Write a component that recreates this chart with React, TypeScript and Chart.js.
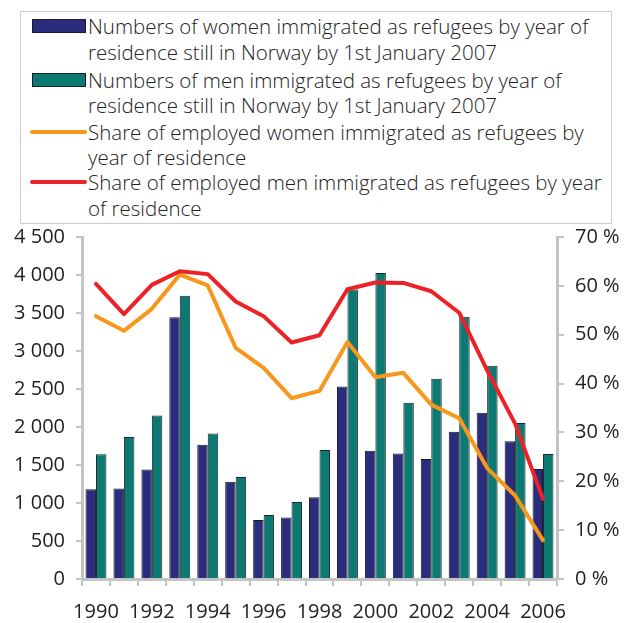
import React, { useEffect, useRef } from "react";
import { Chart, registerables } from "chart.js";

Chart.register(...registerables);

const years = ["1990","1991","1992","1993","1994","1995","1996","1997","1998","1999","2000","2001","2002","2003","2004","2005","2006"];
const womenNumbers = [1180, 1190, 1440, 3445, 1765, 1280, 775, 808, 1075, 2533, 1686, 1651, 1580, 1936, 2186, 1813, 1449];
const menNumbers = [1642, 1870, 2150, 3727, 1914, 1343, 843, 1014, 1699, 3810, 4026, 2318, 2634, 3450, 2805, 2054, 1646];
const womenShare = [53.8, 50.8, 55.3, 62.3, 60.1, 47.3, 43.2, 37.0, 38.5, 48.5, 41.3, 42.2, 35.7, 32.9, 22.7, 17.1, 7.9];
const menShare = [60.4, 54.2, 60.2, 63.0, 62.4, 56.8, 53.8, 48.4, 49.9, 59.3, 60.7, 60.6, 58.9, 54.5, 42.7, 31.8, 16.4];

const legendLabels = [
  ["Numbers of women immigrated as refugees by year of", "residence still in Norway by 1st January 2007"],
  ["Numbers of men immigrated as refugees by year of", "residence still in Norway by 1st January 2007"],
  ["Share of employed women immigrated as refugees by", "year of residence"],
  ["Share of employed men immigrated as refugees by year", "of residence"],
];

const NAVY = "#2b2d7c";
const TEAL = "#0c7a73";
const ORANGE = "#f7981d";
const RED = "#ec2227";
const AXIS = "#c4c4c4";
const TEXT = "#222222";
const FONT = "'Open Sans', 'Noto Sans', sans-serif";

function fmtThousands(v: number): string {
  const s = String(Math.round(v));
  return s.replace(/\B(?=(\d{3})+(?!\d))/g, " ");
}

export default function App() {
  const canvasRef = useRef<HTMLCanvasElement | null>(null);

  useEffect(() => {
    document.body.style.margin = "0";
    const ctx = canvasRef.current!.getContext("2d")!;
    const chart = new Chart(ctx, {
      type: "bar",
      data: {
        labels: years,
        datasets: [
          {
            type: "line",
            label: legendLabels[3].join(" "),
            data: menShare,
            yAxisID: "y1",
            borderColor: RED,
            backgroundColor: RED,
            borderWidth: 4,
            pointRadius: 0,
            tension: 0,
            borderJoinStyle: "round",
            borderCapStyle: "round",
            order: 0,
          } as any,
          {
            type: "line",
            label: legendLabels[2].join(" "),
            data: womenShare,
            yAxisID: "y1",
            borderColor: ORANGE,
            backgroundColor: ORANGE,
            borderWidth: 4,
            pointRadius: 0,
            tension: 0,
            borderJoinStyle: "round",
            borderCapStyle: "round",
            order: 1,
          } as any,
          {
            type: "bar",
            label: legendLabels[0].join(" "),
            data: womenNumbers,
            yAxisID: "y",
            backgroundColor: NAVY,
            borderColor: "#1a1a2a",
            borderWidth: 1,
            categoryPercentage: 0.75,
            barPercentage: 1.0,
            order: 2,
          },
          {
            type: "bar",
            label: legendLabels[1].join(" "),
            data: menNumbers,
            yAxisID: "y",
            backgroundColor: TEAL,
            borderColor: "#1a2a2a",
            borderWidth: 1,
            categoryPercentage: 0.75,
            barPercentage: 1.0,
            order: 2,
          },
        ],
      },
      options: {
        responsive: false,
        animation: false,
        layout: { padding: { top: 237, left: 0, right: 0, bottom: 0 } },
        plugins: {
          legend: { display: false },
          tooltip: { enabled: false },
        },
        scales: {
          x: {
            offset: true,
            grid: {
              display: true,
              offset: true,
              drawOnChartArea: false,
              drawTicks: true,
              tickLength: 7,
              color: AXIS,
              lineWidth: 2,
            },
            border: { display: true, color: AXIS, width: 3 },
            ticks: {
              autoSkip: false,
              maxRotation: 0,
              minRotation: 0,
              padding: 14,
              color: TEXT,
              font: { family: FONT, size: 20 },
              callback: (_v: any, i: number) => (i % 2 === 0 ? years[i] : ""),
            },
            afterFit: (s: any) => { s.height = 44; },
          },
          y: {
            position: "left",
            min: 0,
            max: 4500,
            grid: {
              display: true,
              drawOnChartArea: false,
              drawTicks: true,
              tickLength: 6,
              color: AXIS,
              lineWidth: 2,
            },
            border: { display: true, color: AXIS, width: 3 },
            ticks: {
              stepSize: 500,
              padding: 11,
              color: TEXT,
              font: { family: FONT, size: 20 },
              callback: (v: any) => fmtThousands(Number(v)),
            },
            afterFit: (s: any) => { s.width = 82; },
          },
          y1: {
            position: "right",
            min: 0,
            max: 70,
            grid: {
              display: true,
              drawOnChartArea: false,
              drawTicks: true,
              tickLength: 7,
              color: AXIS,
              lineWidth: 2,
            },
            border: { display: true, color: AXIS, width: 3 },
            ticks: {
              stepSize: 10,
              padding: 11,
              color: TEXT,
              font: { family: FONT, size: 20 },
              callback: (v: any) => `${v} %`,
            },
            afterFit: (s: any) => { s.width = 75; },
          },
        },
      },
    });
    return () => chart.destroy();
  }, []);

  const centers = [26, 79.5, 131.5, 182];
  const lineH = 25.5;

  return (
    <div style={{ position: "fixed", left: 0, top: 0, width: 632, height: 623, background: "#fff" }}>
      <canvas ref={canvasRef} width={632} height={623} style={{ position: "absolute", left: 0, top: 0, width: 632, height: 623 }} />
      <div
        style={{
          position: "absolute",
          left: 20,
          top: 11,
          width: 592,
          height: 213,
          boxSizing: "border-box",
          border: "1px solid #cccccc",
          background: "#fff",
        }}
      />
      {legendLabels.map((lines, i) => {
        const c = centers[i];
        const isBar = i < 2;
        const swatch = isBar ? (
          <div
            key={"s" + i}
            style={{
              position: "absolute",
              left: 32,
              top: c - 7,
              width: 54,
              height: 14,
              boxSizing: "border-box",
              border: "1px solid #1a1a2a",
              background: i === 0 ? NAVY : TEAL,
            }}
          />
        ) : (
          <div
            key={"s" + i}
            style={{
              position: "absolute",
              left: 30,
              top: c - 2,
              width: 57,
              height: 4,
              borderRadius: 2,
              background: i === 2 ? ORANGE : RED,
            }}
          />
        );
        return (
          <React.Fragment key={i}>
            {swatch}
            {lines.map((t, j) => (
              <div
                key={j}
                style={{
                  position: "absolute",
                  left: 88,
                  top: c + j * lineH - 13,
                  height: 26,
                  lineHeight: "26px",
                  fontFamily: FONT,
                  fontSize: 20.5,
                  fontWeight: 300,
                  color: TEXT,
                  whiteSpace: "nowrap",
                }}
              >
                {t}
              </div>
            ))}
          </React.Fragment>
        );
      })}
    </div>
  );
}
